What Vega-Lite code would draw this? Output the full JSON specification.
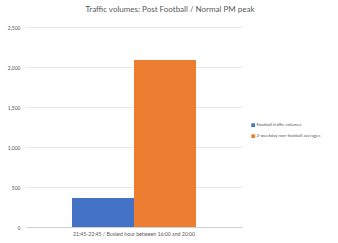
{
  "$schema": "https://vega.github.io/schema/vega-lite/v6.json",
  "width": 216,
  "height": 200,
  "autosize": {"type": "none"},
  "padding": {"left": 26, "top": 27, "right": 96, "bottom": 16},
  "background": "white",
  "title": {
    "text": "Traffic volumes: Post Football / Normal PM peak",
    "anchor": "middle",
    "dx": 36,
    "offset": 11,
    "fontSize": 8,
    "fontWeight": "normal",
    "font": "Lato",
    "color": "#595959"
  },
  "config": {
    "view": {"stroke": null},
    "font": "Lato"
  },
  "data": {
    "values": [
      {"period": "21:45-22:45 / Busiest hour between 16:00 and 20:00", "series": "Football traffic volumes", "volume": 362},
      {"period": "21:45-22:45 / Busiest hour between 16:00 and 20:00", "series": "2-weekday non-football averages", "volume": 2087}
    ]
  },
  "mark": {"type": "bar"},
  "encoding": {
    "x": {
      "field": "period",
      "type": "nominal",
      "scale": {"paddingInner": 0, "paddingOuter": 0.371},
      "axis": {
        "title": null,
        "labelAngle": 0,
        "labelFontSize": 5.2,
        "labelColor": "#595959",
        "labelPadding": 4,
        "ticks": false,
        "domainColor": "#d0d0d0",
        "domainWidth": 1
      }
    },
    "xOffset": {
      "field": "series",
      "type": "nominal",
      "sort": ["Football traffic volumes", "2-weekday non-football averages"],
      "scale": {"paddingInner": 0, "paddingOuter": 0}
    },
    "y": {
      "field": "volume",
      "type": "quantitative",
      "scale": {"domain": [0, 2500]},
      "axis": {
        "title": null,
        "values": [0, 500, 1000, 1500, 2000, 2500],
        "format": ",.0f",
        "labelFontSize": 5,
        "labelColor": "#595959",
        "labelPadding": 6,
        "ticks": false,
        "domain": false,
        "gridColor": "#e6e6e6",
        "gridWidth": 1
      }
    },
    "color": {
      "field": "series",
      "type": "nominal",
      "sort": ["Football traffic volumes", "2-weekday non-football averages"],
      "scale": {"range": ["#4472C4", "#ED7D31"]},
      "legend": {
        "title": null,
        "orient": "none",
        "legendX": 225,
        "legendY": 96,
        "symbolType": "square",
        "symbolSize": 14,
        "symbolStrokeWidth": 0,
        "labelFontSize": 4.4,
        "labelColor": "#595959",
        "labelOffset": 1,
        "rowPadding": 5
      }
    }
  }
}
